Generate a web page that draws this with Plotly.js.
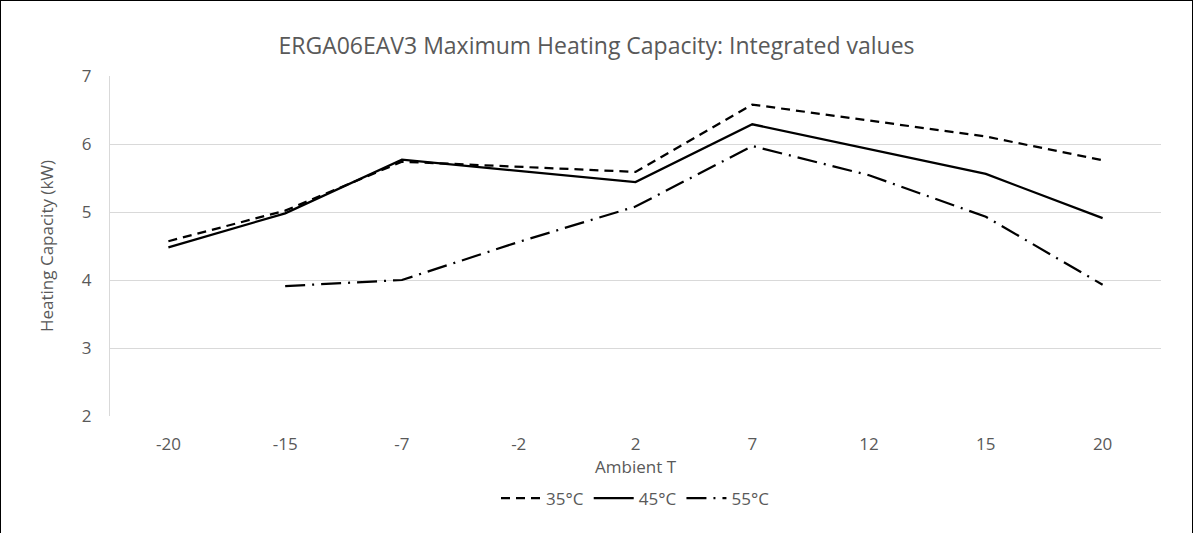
<!DOCTYPE html>
<html>
<head>
<meta charset="utf-8">
<script src="https://cdn.plot.ly/plotly-3.0.1.min.js"></script>
<style>
  html, body { margin: 0; padding: 0; background: #fff; }
  #chart { width: 1191px; height: 532px; border: 1px solid #000; border-bottom: none; }
</style>
</head>
<body>
<div id="chart"></div>
<script>
// ambient temperatures (categories)
var ambient = ['-20', '-15', '-7', '-2', '2', '7', '12', '15', '20'];
// heating capacity in kW per leaving water temperature
var cap35 = [4.57, 5.02, 5.74, 5.66, 5.59, 6.58, 6.35, 6.11, 5.76];
var cap45 = [4.48, 4.98, 5.77, 5.61, 5.44, 6.29, 5.93, 5.56, 4.91];
var cap55 = [null, 3.91, 4.0, 4.56, 5.08, 5.97, 5.54, 4.93, 3.93];

var font = 'Open Sans, sans-serif';
var grey = '#595959';

var traces = [
  {x: ambient, y: cap35, name: '35°C', type: 'scatter', mode: 'lines',
   line: {color: '#000', width: 2.25, dash: '9px,6px'}},
  {x: ambient, y: cap45, name: '45°C', type: 'scatter', mode: 'lines',
   line: {color: '#000', width: 2.25}},
  {x: ambient, y: cap55, name: '55°C', type: 'scatter', mode: 'lines',
   line: {color: '#000', width: 2.25, dash: '20px,7px,2px,7px'}}
];

var layout = {
  width: 1191, height: 532,
  margin: {l: 109, r: 31, t: 75, b: 117},
  paper_bgcolor: '#fff', plot_bgcolor: '#fff',
  font: {family: font, color: grey, size: 17},
  title: {text: 'ERGA06EAV3 Maximum Heating Capacity: Integrated values',
          font: {family: font, size: 23, color: grey}, x: 0.5, xanchor: 'center', y: 0.915, yanchor: 'middle'},
  xaxis: {
    type: 'category',
    range: [-0.5, 8.5],
    title: {text: 'Ambient T', font: {size: 17, color: grey}, standoff: 0},
    showgrid: false, zeroline: false,
    showline: false,
    ticks: '', ticklabelstandoff: 16,
    tickfont: {size: 17, color: grey}
  },
  yaxis: {
    range: [2, 7], dtick: 1,
    title: {text: 'Heating Capacity (kW)', font: {size: 17, color: grey}, standoff: 23},
    gridcolor: '#d9d9d9', gridwidth: 1,
    zeroline: false, showline: true, linecolor: '#d9d9d9',
    ticks: '', ticklabelstandoff: 14,
    tickfont: {size: 17, color: grey}
  },
  showlegend: true,
  legend: {orientation: 'h', x: 0.5, xanchor: 'center', y: -0.19, yanchor: 'top',
           font: {size: 17, color: grey}, itemwidth: 40, tracegroupgap: 0}
};

Plotly.newPlot('chart', traces, layout, {displayModeBar: false, staticPlot: true});
</script>
</body>
</html>
